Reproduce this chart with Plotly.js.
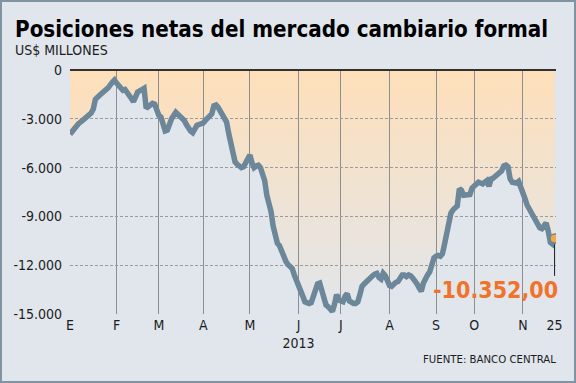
<!DOCTYPE html>
<html>
<head>
<meta charset="utf-8">
<script src="https://cdn.plot.ly/plotly-3.0.1.min.js"></script>
<style>
  html, body { margin: 0; padding: 0; background: #ffffff; }
  #chart { width: 576px; height: 383px; box-sizing: border-box; border: 2px solid #7f93a2; }
</style>
</head>
<body>
<div id="chart"></div>
<script>
// ---- data ----
const dates = [
  '2013-01-02','2013-01-04','2013-01-08','2013-01-10','2013-01-14','2013-01-16','2013-01-17','2013-01-18','2013-01-22','2013-01-24','2013-01-28','2013-01-30','2013-01-31',
  '2013-02-01','2013-02-04','2013-02-06','2013-02-07','2013-02-08','2013-02-11','2013-02-12','2013-02-13','2013-02-14','2013-02-15','2013-02-19','2013-02-20','2013-02-21','2013-02-22','2013-02-25','2013-02-26','2013-02-27','2013-02-28',
  '2013-03-01','2013-03-04','2013-03-05','2013-03-06','2013-03-07','2013-03-08','2013-03-11','2013-03-13','2013-03-14','2013-03-15','2013-03-18','2013-03-19','2013-03-20','2013-03-21','2013-03-22','2013-03-25','2013-03-26','2013-03-27','2013-03-28',
  '2013-04-01','2013-04-02','2013-04-03','2013-04-04','2013-04-05','2013-04-08','2013-04-09','2013-04-10','2013-04-11','2013-04-12','2013-04-15','2013-04-16','2013-04-17','2013-04-18','2013-04-19','2013-04-22','2013-04-23','2013-04-24','2013-04-25','2013-04-26','2013-04-29','2013-04-30',
  '2013-05-01','2013-05-02','2013-05-03','2013-05-06','2013-05-07','2013-05-08','2013-05-09','2013-05-10','2013-05-13','2013-05-14','2013-05-15','2013-05-16','2013-05-17','2013-05-20','2013-05-21','2013-05-22','2013-05-23','2013-05-24','2013-05-27','2013-05-28','2013-05-29','2013-05-30','2013-05-31',
  '2013-06-03','2013-06-04','2013-06-05','2013-06-06','2013-06-07','2013-06-10','2013-06-11','2013-06-12','2013-06-13','2013-06-14','2013-06-17','2013-06-18','2013-06-19','2013-06-20','2013-06-21','2013-06-24','2013-06-25','2013-06-26','2013-06-27','2013-06-28',
  '2013-07-01','2013-07-02','2013-07-03','2013-07-04','2013-07-05','2013-07-08','2013-07-09','2013-07-10','2013-07-11','2013-07-12','2013-07-15','2013-07-16','2013-07-17','2013-07-18','2013-07-19','2013-07-22','2013-07-23','2013-07-24','2013-07-25','2013-07-26','2013-07-29','2013-07-30','2013-07-31',
  '2013-08-01','2013-08-02','2013-08-05','2013-08-06','2013-08-07','2013-08-08','2013-08-09','2013-08-12','2013-08-13','2013-08-14','2013-08-15','2013-08-16','2013-08-19','2013-08-20','2013-08-21','2013-08-22','2013-08-23','2013-08-26','2013-08-27','2013-08-28','2013-08-29','2013-08-30',
  '2013-09-02','2013-09-03','2013-09-04','2013-09-05','2013-09-06','2013-09-09','2013-09-10','2013-09-11','2013-09-12','2013-09-13','2013-09-16','2013-09-17','2013-09-23','2013-09-24','2013-09-25','2013-09-26','2013-09-27','2013-09-30',
  '2013-10-01','2013-10-02','2013-10-03','2013-10-04','2013-10-07','2013-10-08','2013-10-09','2013-10-10','2013-10-11','2013-10-14','2013-10-15','2013-10-16','2013-10-17','2013-10-18','2013-10-21','2013-10-22','2013-10-23','2013-10-24','2013-10-25','2013-10-28','2013-10-29','2013-10-30','2013-10-31',
  '2013-11-04','2013-11-05','2013-11-06','2013-11-07','2013-11-08','2013-11-11','2013-11-12','2013-11-13','2013-11-14','2013-11-15','2013-11-18','2013-11-19','2013-11-20','2013-11-21','2013-11-22','2013-11-25'
];
const posiciones = [
  -3950,-3600,-3300,-3100,-2900,-2650,-2400,-1800,-1550,-1350,-1100,-750,-620,
  -800,-1000,-1250,-1200,-1350,-1550,-1750,-1950,-1550,-1350,-1200,-1125,-2350,-2250,-2200,-2050,-2100,-2500,
  -2800,-2900,-3300,-3750,-3700,-3200,-3000,-2600,-2700,-2900,-2950,-3100,-3350,-3650,-3750,-3850,-3600,-3400,-3350,
  -3250,-3100,-2950,-2850,-2700,-2200,-2150,-2300,-2500,-2650,-2900,-3200,-3900,-4600,-5400,-5650,-5800,-5900,-6000,-5950,-5650,-5400,
  -5230,-5700,-6000,-5900,-5850,-6000,-6300,-6800,-7700,-8200,-8700,-9600,-10300,-10650,-10800,-11200,-11500,-11750,-11950,-12100,-12200,-12600,-12900,
  -13100,-13600,-13900,-14250,-14300,-14350,-14300,-13950,-13500,-13150,-13100,-13600,-14100,-14450,-14550,-14700,-14850,-14400,-13800,-14150,
  -14250,-14250,-13900,-13750,-14200,-14300,-14350,-14350,-14250,-13800,-13300,-13150,-13000,-12850,-12750,-12650,-12550,-12500,-12750,-12850,-12500,-12650,-12950,
  -13250,-13300,-13100,-13050,-13000,-12850,-12600,-12600,-12700,-12600,-12650,-12800,-12950,-13150,-13400,-13600,-13100,-12750,-12600,-12400,-11900,-11550,
  -11450,-11400,-11450,-11300,-10700,-9900,-9300,-8800,-8600,-8500,-8350,-7300,-7400,-7700,-7700,-7650,-7650,-7250,
  -7100,-7000,-6900,-6950,-7000,-6900,-6800,-7150,-6700,-6650,-6550,-6450,-6350,-6200,-5900,-5850,-5950,-6700,-6900,-6900,-6950,-6850,-7300,
  -7600,-7900,-8300,-8550,-8800,-9050,-9300,-9550,-9700,-9750,-9550,-9400,-9900,-10600,-10700,-10352
];
const holidays = ['2013-09-18','2013-09-19','2013-09-20','2013-11-01'];
const xTickDates = ['2013-01-02','2013-02-01','2013-03-01','2013-04-01','2013-05-01','2013-06-03','2013-07-01','2013-08-01','2013-09-02','2013-10-01','2013-11-04','2013-11-25'];
const xTickText = ['E','F','M','A','M','J<br>2013','J','A','S','O','N','25'];
const monthLineDates = xTickDates.slice(1, -1);
const yTickVals = [0,-3000,-6000,-9000,-12000,-15000];
const yTickText = ['0','-3.000','-6.000','-9.000','-12.000','-15.000'];
const gridYVals = yTickVals.slice(1);
const endLabel = '-10.352,00';
const titleText = 'Posiciones netas del mercado cambiario formal';
const unitText = 'US$ MILLONES';
const sourceText = 'FUENTE: BANCO CENTRAL';

// ---- styles ----
const BG = '#e1e6ec';
const PEACH = '#fedfb9';
const LINE = '#6b8799';
const ORANGE = '#f1732a';
const TXT = 'DejaVu Sans Condensed, DejaVu Sans, sans-serif';
const BOLD_FONT = 'DejaVu Sans Condensed, DejaVu Sans, sans-serif';

const lastDate = dates[dates.length - 1];
const lastVal = posiciones[posiciones.length - 1];
const xRange = ['2013-01-02', '2013-11-25 16:00'];
const yRange = [-15000, 0];
const breaks = [{bounds: ['sat', 'mon']}, {values: holidays}];

const traces = [
  { // gradient area between series and zero (bottom subplot)
    x: dates, y: posiciones, xaxis: 'x', yaxis: 'y',
    type: 'scatter', mode: 'lines', line: {width: 0, color: 'rgba(0,0,0,0)'},
    fill: 'tozeroy',
    fillgradient: {type: 'vertical', start: -15000, stop: 0, colorscale: [[0, BG], [1, PEACH]]},
    hoverinfo: 'skip', showlegend: false
  },
  { // main line (top subplot, above the grid)
    x: dates, y: posiciones, xaxis: 'x2', yaxis: 'y2',
    type: 'scatter', mode: 'lines', line: {width: 5.5, color: LINE},
    hoverinfo: 'skip', showlegend: false
  },
  { // last point
    x: [lastDate], y: [lastVal], xaxis: 'x2', yaxis: 'y2',
    type: 'scatter', mode: 'markers',
    marker: {size: 9, color: '#f8a843', line: {width: 1.5, color: LINE}},
    hoverinfo: 'skip', showlegend: false
  }
];

const layout = {
  width: 572, height: 379,
  margin: {l: 68, r: 18, t: 68, b: 67},
  paper_bgcolor: BG, plot_bgcolor: 'rgba(0,0,0,0)',
  showlegend: false,
  xaxis: {
    type: 'date', range: xRange, rangebreaks: breaks, domain: [0, 1], anchor: 'y',
    tickmode: 'array', tickvals: xTickDates, ticktext: xTickText,
    showgrid: false, zeroline: false, showline: false, ticks: '',
    ticklabelstandoff: 1,
    tickfont: {family: TXT, size: 14, color: '#1c1c1c'}
  },
  yaxis: {
    range: yRange, domain: [0, 1], anchor: 'x',
    tickmode: 'array', tickvals: yTickVals, ticktext: yTickText,
    showgrid: false, zeroline: false, showline: false, ticks: '',
    ticklabelstandoff: 7,
    tickfont: {family: TXT, size: 14, color: '#1c1c1c'}
  },
  xaxis2: {
    type: 'date', range: xRange, rangebreaks: breaks, domain: [0, 1], anchor: 'y2',
    tickmode: 'array', tickvals: monthLineDates,
    showticklabels: false, ticks: '',
    showgrid: true, gridcolor: '#8e8e8e', gridwidth: 1,
    zeroline: false, showline: false
  },
  yaxis2: {
    range: yRange, domain: [0, 1], anchor: 'x2',
    tickmode: 'array', tickvals: gridYVals,
    showticklabels: false, ticks: '',
    showgrid: true, gridcolor: '#9b9b9b', gridwidth: 1, griddash: '3px,2px',
    zeroline: true, zerolinecolor: '#34302b', zerolinewidth: 1.5, showline: false
  },
  annotations: [
    {xref: 'paper', yref: 'paper', x: -0.117, y: 1.166, xanchor: 'left', yanchor: 'middle',
     text: '<b>' + titleText + '</b>', showarrow: false,
     font: {family: BOLD_FONT, size: 22.2, color: '#000000'}},
    {xref: 'paper', yref: 'paper', x: -0.117, y: 1.083, xanchor: 'left', yanchor: 'middle',
     text: unitText, showarrow: false,
     font: {family: TXT, size: 14, color: '#1c1c1c'}},
    {xref: 'paper', yref: 'paper', x: 1.004, y: -0.188, xanchor: 'right', yanchor: 'middle',
     text: sourceText, showarrow: false,
     font: {family: TXT, size: 11.3, color: '#1c1c1c'}},
    {xref: 'x2', yref: 'y2', x: lastDate, y: lastVal, text: '',
     showarrow: true, arrowhead: 0, arrowwidth: 1, arrowcolor: '#1a1a1a',
     ax: 0, ay: 39, standoff: 6},
    {xref: 'x2', yref: 'y2', x: lastDate, y: lastVal, text: '<b>' + endLabel + '</b>',
     showarrow: false, xanchor: 'right', yanchor: 'middle', xshift: 5, yshift: -52,
     font: {family: BOLD_FONT, size: 23, color: ORANGE}}
  ]
};

Plotly.newPlot('chart', traces, layout, {displayModeBar: false, staticPlot: true});
</script>
</body>
</html>
